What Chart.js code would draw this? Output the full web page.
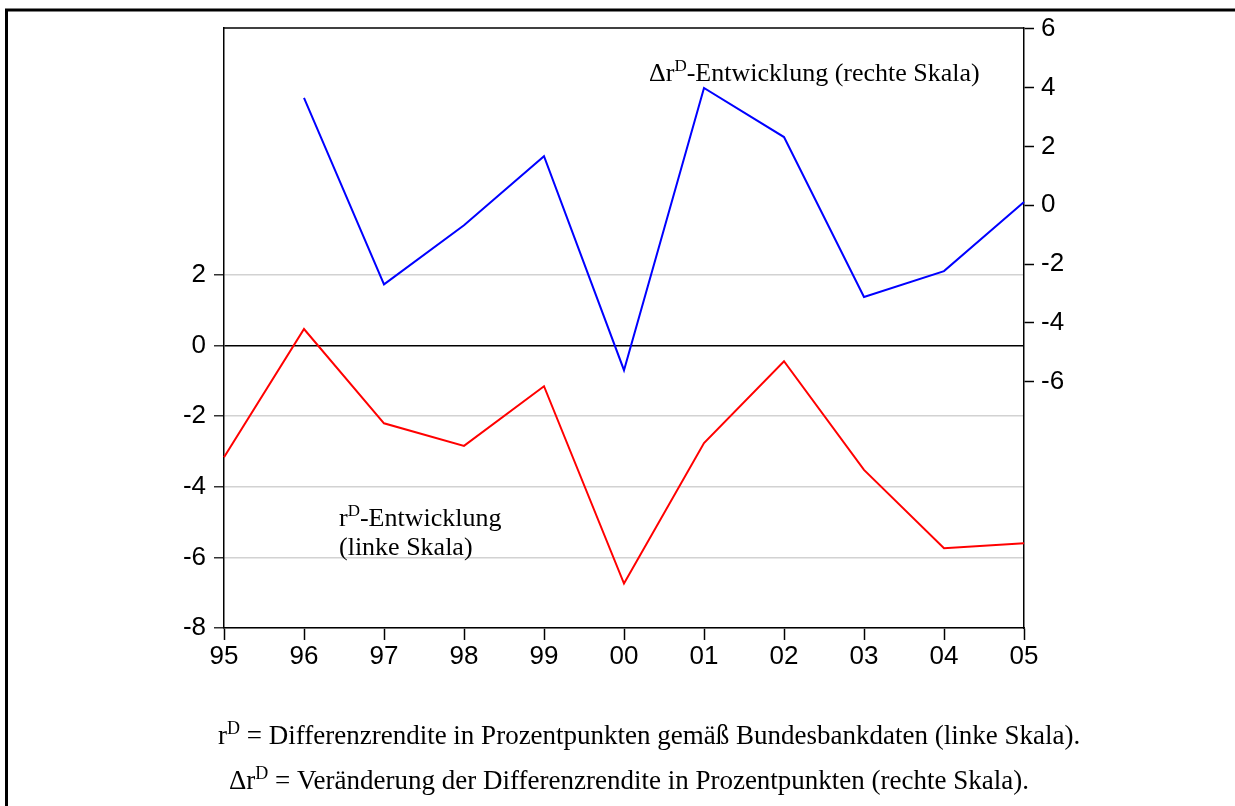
<!DOCTYPE html>
<html>
<head>
<meta charset="utf-8">
<script src="https://cdn.jsdelivr.net/npm/chart.js@4"></script>
<style>
  html, body { margin: 0; padding: 0; background: #fff; }
  #wrap { position: relative; width: 1235px; height: 806px; }
</style>
</head>
<body>
<div id="wrap"><canvas id="myChart"></canvas></div>
<script>
// data
const years = ['95', '96', '97', '98', '99', '00', '01', '02', '03', '04', '05'];
const rD = [-3.16, 0.47, -2.2, -2.84, -1.15, -6.74, -2.76, -0.44, -3.52, -5.74, -5.6];
const deltaRD = [null, 3.65, -2.69, -0.68, 1.67, -5.61, 3.99, 2.32, -3.12, -2.24, 0.11];
const leftTicks = [-8, -6, -4, -2, 0, 2];
const rightTicks = [-6, -4, -2, 0, 2, 4, 6];

const SERIF = '"Liberation Serif", "Times New Roman", serif';
const SANS = '"Liberation Sans", Arial, sans-serif';

// writes a line made of [text, isSuperscript] pieces
function drawRich(ctx, parts, x, y, size) {
  let cx = x;
  parts.forEach(function (p) {
    ctx.font = (p[1] ? Math.round(size * 0.66) : size) + 'px ' + SERIF;
    ctx.fillText(p[0], cx, p[1] ? y - 10 : y);
    cx += ctx.measureText(p[0]).width;
  });
}

const decor = {
  id: 'decor',
  afterDraw(chart) {
    const ctx = chart.ctx;
    const a = chart.chartArea;
    ctx.save();
    // outer frame
    ctx.strokeStyle = '#000';
    ctx.lineWidth = 3;
    ctx.beginPath();
    ctx.moveTo(6.5, 806);
    ctx.lineTo(6.5, 10);
    ctx.lineTo(1235, 10);
    ctx.stroke();
    // top of the plot box
    ctx.lineWidth = 1.5;
    ctx.beginPath();
    ctx.moveTo(a.left, a.top);
    ctx.lineTo(a.right, a.top);
    ctx.stroke();

    ctx.fillStyle = '#000';
    ctx.textAlign = 'left';
    ctx.textBaseline = 'alphabetic';
    drawRich(ctx, [['\u0394r', false], ['D', true], ['-Entwicklung (rechte Skala)', false]], 649, 81, 26);
    drawRich(ctx, [['r', false], ['D', true], ['-Entwicklung', false]], 339, 526, 26);
    drawRich(ctx, [['(linke Skala)', false]], 339, 555, 26);
    drawRich(ctx, [['r', false], ['D', true], [' = Differenzrendite in Prozentpunkten gem\u00e4\u00df Bundesbankdaten (linke Skala).', false]], 218, 744, 27);
    drawRich(ctx, [['\u0394r', false], ['D', true], [' = Ver\u00e4nderung der Differenzrendite in Prozentpunkten (rechte Skala).', false]], 229, 789, 27);
    ctx.restore();
  }
};

var myChart = new Chart(document.getElementById('myChart'), {
  type: 'line',
  data: {
    labels: years,
    datasets: [{
      label: 'rD',
      data: rD,
      yAxisID: 'y',
      borderColor: '#ff0000',
      borderWidth: 2,
      pointRadius: 0,
      tension: 0
    }, {
      label: 'delta rD',
      data: deltaRD,
      yAxisID: 'y2',
      borderColor: '#0000ff',
      borderWidth: 2,
      pointRadius: 0,
      tension: 0
    }]
  },
  options: {
    responsive: true,
    maintainAspectRatio: false,
    animation: false,
    layout: { padding: { left: 0, right: 0, top: 28, bottom: 0 } },
    plugins: {
      legend: { display: false },
      tooltip: { enabled: false }
    },
    scales: {
      x: {
        offset: false,
        grid: { drawOnChartArea: false, offset: false, tickLength: 12, tickColor: '#000', tickWidth: 1.5 },
        border: { color: '#000', width: 1.5 },
        ticks: { color: '#000', font: { family: SANS, size: 26 }, padding: 1, autoSkip: false, maxRotation: 0 },
        afterFit: function (scale) { scale.height = 178; }
      },
      y: {
        position: 'left',
        min: -8,
        max: 9,
        afterBuildTicks: function (scale) { scale.ticks = leftTicks.map(function (v) { return { value: v }; }); },
        afterFit: function (scale) { scale.width = 224; },
        grid: {
          color: function (c) { return c.tick && c.tick.value === 0 ? '#000' : '#d2d2d2'; },
          lineWidth: 1.5,
          tickLength: 10,
          tickColor: '#333',
          tickWidth: 1.5
        },
        border: { color: '#000', width: 1.5 },
        ticks: { color: '#000', font: { family: SANS, size: 26 }, padding: 8 }
      },
      y2: {
        position: 'right',
        min: -14.38,
        max: 6.03,
        afterBuildTicks: function (scale) { scale.ticks = rightTicks.map(function (v) { return { value: v }; }); },
        afterFit: function (scale) { scale.width = 211; },
        grid: { drawOnChartArea: false, tickLength: 10, tickColor: '#000', tickWidth: 1.5 },
        border: { color: '#000', width: 1.5 },
        ticks: { color: '#000', font: { family: SANS, size: 26 }, padding: 7 }
      }
    }
  },
  plugins: [decor]
});
</script>
</body>
</html>
